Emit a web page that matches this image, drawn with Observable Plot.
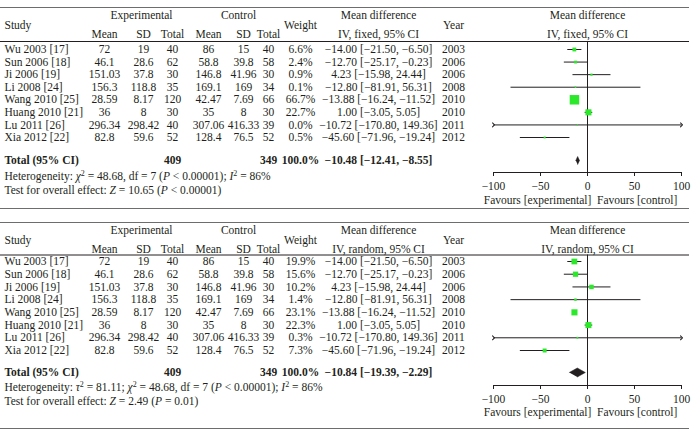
<!DOCTYPE html>
<html><head><meta charset="utf-8">
<script src="https://cdn.jsdelivr.net/npm/d3@7"></script>
<script src="https://cdn.jsdelivr.net/npm/@observablehq/plot@0.6"></script>
<style>
body{margin:0;background:#fff;}
#chart{width:697px;height:437px;overflow:hidden;background:#fff;}
#chart svg{display:block;}
</style></head><body><div id="chart"></div>
<script>
// ---------- data ----------
const studies   = ["Wu 2003 [17]", "Sun 2006 [18]", "Ji 2006 [19]", "Li 2008 [24]", "Wang 2010 [25]", "Huang 2010 [21]", "Lu 2011 [26]", "Xia 2012 [22]"];
const years     = ["2003", "2006", "2006", "2008", "2010", "2010", "2011", "2012"];
const expMean   = [72, 46.1, 151.03, 156.3, 28.59, 36, 296.34, 82.8];
const expSD     = [19, 28.6, 37.8, 118.8, 8.17, 8, 298.42, 59.6];
const expN      = [40, 62, 30, 35, 120, 30, 40, 52];
const ctrlMean  = [86, 58.8, 146.8, 169.1, 42.47, 35, 307.06, 128.4];
const ctrlSD    = [15, 39.8, 41.96, 169, 7.69, 8, 416.33, 76.5];
const ctrlN     = [40, 58, 30, 34, 66, 30, 39, 52];
const meanDiff  = [-14.00, -12.70, 4.23, -12.80, -13.88, 1.00, -10.72, -45.60];
const ciLow     = [-21.50, -25.17, -15.98, -81.91, -16.24, -3.05, -170.80, -71.96];
const ciHigh    = [-6.50, -0.23, 24.44, 56.31, -11.52, 5.05, 149.36, -19.24];
const weightFixed  = [6.6, 2.4, 0.9, 0.1, 66.7, 22.7, 0.0, 0.5];
const weightRandom = [19.9, 15.6, 10.2, 1.4, 23.1, 22.3, 0.3, 7.3];
const totalFixed   = {md: -10.48, lo: -12.41, hi: -8.55, weight: 100.0};
const totalRandom  = {md: -10.84, lo: -19.39, hi: -2.29, weight: 100.0};
const totalExpN = 409, totalCtrlN = 349;
const xTicks = [-100, -50, 0, 50, 100];
const hetFixed  = "Heterogeneity: *χ*^2^ = 48.68, df = 7 (*P* < 0.00001); *I*^2^ = 86%";
const testFixed = "Test for overall effect: *Z* = 10.65 (*P* < 0.00001)";
const hetRandom  = "Heterogeneity: *τ*^2^ = 81.11; *χ*^2^ = 48.68, df = 7 (*P* < 0.00001); *I*^2^ = 86%";
const testRandom = "Test for overall effect: *Z* = 2.49 (*P* = 0.01)";
const favoursText = "Favours [experimental]  Favours [control]";

// ---------- helpers ----------
const ink = "#231f20";
const green = "#2be82b";
const xDomain = [-100, 100];
const xRange = [493, 681];
const MINUS = "\u2212";
const f2 = v => (v < 0 ? MINUS : "") + Math.abs(v).toFixed(2);
const ciText = (m, l, h) => `${f2(m)} [${f2(l)}, ${f2(h)}]`;

function parseRich(s) {
  const segs = []; let it = false, sup = false, buf = "";
  for (const ch of s) {
    if (ch === "*" || ch === "^") {
      if (buf) segs.push({t: buf, it, sup});
      buf = "";
      if (ch === "*") it = !it; else sup = !sup;
    } else buf += ch;
  }
  if (buf) segs.push({t: buf, it, sup});
  return segs;
}
const plainOf = s => parseRich(s).map(g => g.sup ? g.t.replace(/2/g, "\u00b2") : g.t).join("");
function applyRich(svg, list) {
  const map = new Map(list.map(r => [plainOf(r), parseRich(r)]));
  svg.querySelectorAll("text").forEach(t => {
    const segs = map.get(t.textContent);
    if (!segs) return;
    t.textContent = "";
    let up = false;
    for (const s of segs) {
      const ts = document.createElementNS("http://www.w3.org/2000/svg", "tspan");
      ts.textContent = s.t;
      if (s.it) ts.setAttribute("font-style", "italic");
      if (s.sup) {
        ts.setAttribute("font-size", "8");
        if (!up) { ts.setAttribute("dy", "-4"); up = true; }
      } else if (up) { ts.setAttribute("dy", "4"); up = false; }
      t.appendChild(ts);
    }
  });
}

function panel({L, height, weights, total, model, het, test}) {
  const n = studies.length;
  const u = (L.rowLast - L.rowFirst) / (n - 1);
  const Y = px => (px - L.rowFirst) / u;
  const data = studies.map((s, i) => ({
    i, study: s, year: years[i],
    em: String(expMean[i]), es: String(expSD[i]), en: String(expN[i]),
    cm: String(ctrlMean[i]), cs: String(ctrlSD[i]), cn: String(ctrlN[i]),
    w: weights[i], wt: weights[i].toFixed(1) + "%",
    md: meanDiff[i], lo: ciLow[i], hi: ciHigh[i],
    ci: ciText(meanDiff[i], ciLow[i], ciHigh[i])
  }));
  const FS = 11.5;
  const C = {study: 4, em: 104, es: 143, en: 172, cm: 208, cs: 243, cn: 268, w: 300, md: 378, year: 453, grpE: 141, grpC: 238};
  const txt = (d, o) => Plot.text(d, {fontSize: FS, fill: ink, frameAnchor: "left", ...o});
  const col = (key, dx, anchor = "middle") => txt(data, {y: "i", text: key, dx, textAnchor: anchor});
  const lab = (str, px, dx, anchor = "middle", extra = {}) =>
    txt([str], {y: () => Y(px), text: d => d, dx, textAnchor: anchor, ...extra});
  const bold = {fontWeight: "bold"};
  const tr = Y(L.total);
  const h = L.diaHalf / u;
  const diamond = [
    {x: total.lo, y: tr}, {x: total.md, y: tr - h},
    {x: total.hi, y: tr}, {x: total.md, y: tr + h}
  ];
  const inside = d => d.lo >= xDomain[0] && d.hi <= xDomain[1];

  const svg = Plot.plot({
    width: 697, height,
    marginLeft: 0, marginRight: 8, marginTop: 0, marginBottom: height - L.axis,
    style: {fontFamily: "'Liberation Serif', 'Times New Roman', serif", fontSize: "11.5px", color: ink, background: "#fff"},
    x: {domain: xDomain, range: xRange, clamp: true},
    y: {domain: [0, n - 1], range: [L.rowFirst, L.rowLast], axis: null},
    r: {type: "sqrt", domain: [0, 100], range: [0.7, 6.4]},
    marks: [
      // table rules
      Plot.ruleY([Y(L.top)], {stroke: "#6d6d6d", strokeWidth: 1}),
      Plot.ruleY([Y(L.hline)], {stroke: ink, strokeWidth: 1}),
      Plot.ruleY([Y(L.bottom)], {stroke: "#6d6d6d", strokeWidth: 1}),
      // headers
      lab("Experimental", L.grp, C.grpE),
      lab("Control", L.grp, C.grpC),
      lab("Mean difference", L.grp, C.md),
      lab("Study", L.mid, C.study, "start"),
      lab("Weight", L.mid, C.w),
      lab("Year", L.mid, C.year),
      lab("Mean", L.sub, C.em), lab("SD", L.sub, C.es), lab("Total", L.sub, C.en),
      lab("Mean", L.sub, C.cm), lab("SD", L.sub, C.cs), lab("Total", L.sub, C.cn),
      lab(`IV, ${model}, 95% CI`, L.sub, C.md),
      Plot.text(["Mean difference", `IV, ${model}, 95% CI`], {
        x: () => 0, y: (d, k) => Y(k === 0 ? L.grp : L.sub), text: d => d,
        fontSize: FS, fill: ink, textAnchor: "middle"
      }),
      // study rows
      col("study", C.study, "start"),
      col("em", C.em), col("es", C.es), col("en", C.en),
      col("cm", C.cm), col("cs", C.cs), col("cn", C.cn),
      col("wt", C.w), col("ci", C.md), col("year", C.year),
      // totals
      lab("Total (95% CI)", L.total, C.study, "start", bold),
      lab(String(totalExpN), L.total, C.en, "middle", bold),
      lab(String(totalCtrlN), L.total, C.cn, "middle", bold),
      lab(total.weight.toFixed(1) + "%", L.total, C.w, "middle", bold),
      lab(ciText(total.md, total.lo, total.hi), L.total, C.md, "middle", bold),
      lab(plainOf(het), L.het, C.study, "start"),
      lab(plainOf(test), L.test, C.study, "start"),
      // forest plot
      Plot.ruleX([0], {y1: () => Y(L.hline), y2: () => Y(L.axis), stroke: ink, strokeWidth: 1}),
      Plot.ruleY([Y(L.axis)], {x1: () => xDomain[0], x2: () => xDomain[1], stroke: ink, strokeWidth: 1}),
      Plot.axisX({ticks: xTicks, tickSize: 4, tickPadding: 5, fontSize: FS, label: null, anchor: "bottom", stroke: ink, fill: ink}),
      Plot.link(data.filter(inside), {x1: "lo", x2: "hi", y1: "i", y2: "i", stroke: ink, strokeWidth: 1}),
      Plot.link(data.filter(d => !inside(d)), {x1: "lo", x2: "hi", y1: "i", y2: "i", stroke: ink, strokeWidth: 1, markerStart: "arrow", markerEnd: "arrow"}),
      Plot.dot(data, {x: "md", y: "i", r: "w", symbol: "square", fill: green, stroke: "none"}),
      Plot.line(diamond, {x: "x", y: "y", fill: ink, stroke: ink, strokeWidth: 0.5}),
      Plot.text([favoursText], {x: () => 0, y: () => Y(L.fav), text: d => d, dx: -7, fontSize: FS, fill: ink, textAnchor: "middle"})
    ]
  });
  applyRich(svg, [het, test]);
  return svg;
}

const root = document.getElementById("chart");
root.appendChild(panel({
  height: 215,
  L: {top: 7, grp: 15, mid: 24.5, sub: 34, hline: 41, rowFirst: 49, rowLast: 137, total: 160, het: 175.5, test: 190, axis: 172, fav: 200, bottom: 208, diaHalf: 4},
  weights: weightFixed, total: totalFixed, model: "fixed", het: hetFixed, test: testFixed
}));
root.appendChild(panel({
  height: 222,
  L: {top: 7, grp: 15, mid: 25, sub: 33.5, hline: 39.5, rowFirst: 46, rowLast: 135, total: 157, het: 172, test: 186, axis: 170, fav: 197, bottom: 213, diaHalf: 4.5},
  weights: weightRandom, total: totalRandom, model: "random", het: hetRandom, test: testRandom
}));
</script>
</body></html>
